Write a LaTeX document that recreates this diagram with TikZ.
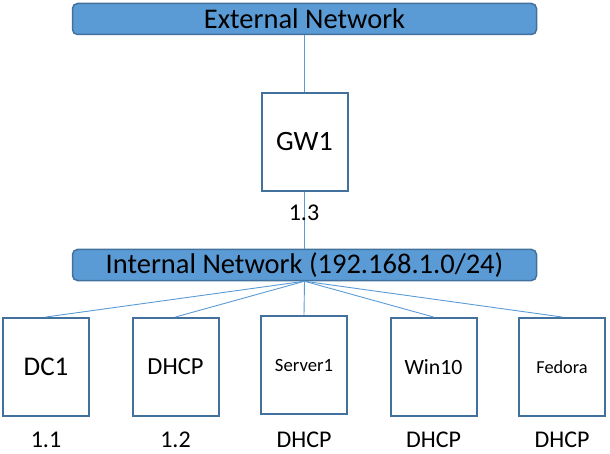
\documentclass[tikz,border=0pt]{standalone}
\usepackage{fontspec}
\setmainfont{Carlito}
\definecolor{netblue}{HTML}{5B9BD5}
\definecolor{edgeblue}{HTML}{41719C}
\begin{document}
\begin{tikzpicture}[x=1pt,y=-1pt,
    net/.style={draw=edgeblue,line width=1.5pt,fill=netblue,rounded corners=5pt,minimum width=464pt,minimum height=31pt,inner sep=0pt,font=\fontsize{28.5}{30}\selectfont},
    host/.style={draw=edgeblue,line width=2pt,fill=white,minimum width=86pt,minimum height=98pt,inner sep=0pt},
    addr/.style={font=\fontsize{24}{26}\selectfont},
    link/.style={netblue,line width=0.9pt}]
    \useasboundingbox (0,0) rectangle (610,454);

    \node[net] (ext) at (304.5,19) {External Network};
    \node[host,font=\fontsize{28}{30}\selectfont] (gw) at (304.5,142) {GW1};
    \node[net] (int) at (304.5,265) {Internal Network (192.168.1.0/24)};

    \node[host,font=\fontsize{27}{30}\selectfont] (dc) at (46,367) {DC1};
    \node[host,font=\fontsize{24.5}{26}\selectfont] (dhcp) at (175.5,367) {DHCP};
    \node[host,font=\fontsize{18.7}{20}\selectfont] (srv) at (304,365) {Server1};
    \node[host,font=\fontsize{21.8}{24}\selectfont] (win) at (433.5,367) {Win10};
    \node[host,font=\fontsize{18.3}{20}\selectfont] (fed) at (562,367) {Fedora};

    \draw[link] (ext) -- (gw);
    \draw[link] (gw) -- (int);
    \foreach \h in {dc,dhcp,srv,win,fed}
      \draw[link] (int.south) -- (\h.north);

    \node[addr] (gwip) at (304,213) {1.3};
    \node[addr] (dcip) at (46,440) {1.1};
    \node[addr] (dhcpip) at (175.5,440) {1.2};
    \node[addr] (srvip) at (304,440) {DHCP};
    \node[addr] (winip) at (433.5,440) {DHCP};
    \node[addr] (fedip) at (562,440) {DHCP};
\end{tikzpicture}
\end{document}
